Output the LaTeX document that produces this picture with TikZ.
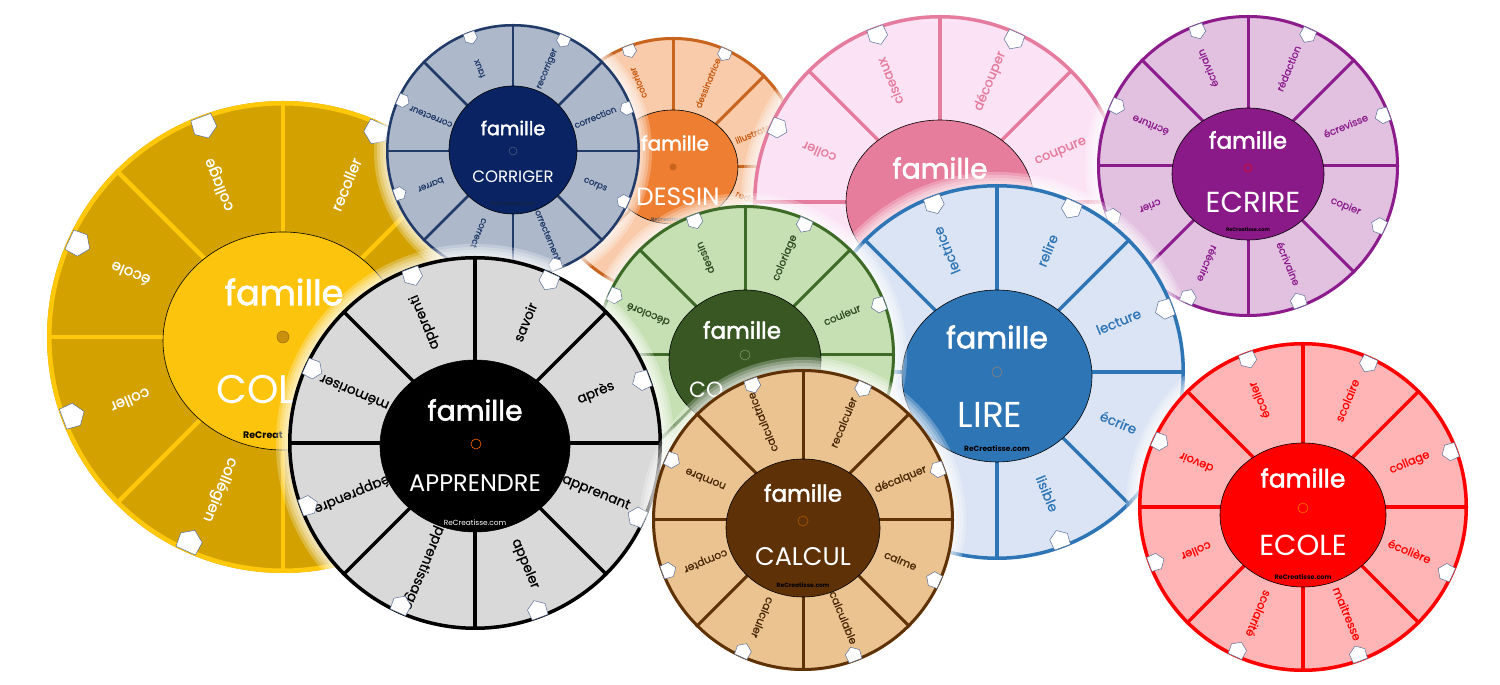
\documentclass[tikz,border=0pt]{standalone}
\usepackage{fontspec}
\setmainfont{Poppins}
\newfontfamily\hubfont{Poppins}[FakeBold=2]
\newfontfamily\wordfont{Poppins}[FakeBold=0.8]
\usetikzlibrary{shapes.geometric}
\definecolor{tabline}{HTML}{5A6E96}
\definecolor{colleR}{HTML}{D3A200}\definecolor{colleL}{HTML}{FFC80A}\definecolor{colleH}{HTML}{FCC40C}
\definecolor{colleD}{HTML}{C8900C}\definecolor{colleDL}{HTML}{9A6A06}
\definecolor{dessR}{HTML}{F9CBAB}\definecolor{dessL}{HTML}{C9641F}\definecolor{dessH}{HTML}{EE7E32}\definecolor{dessW}{HTML}{C55A11}
\definecolor{pinkR}{HTML}{FCE2F5}\definecolor{pinkL}{HTML}{E57C9D}\definecolor{pinkH}{HTML}{E77D9D}
\definecolor{ecrR}{HTML}{E1C0E0}\definecolor{ecrL}{HTML}{8C1C8C}\definecolor{ecrH}{HTML}{8A1A88}
\definecolor{lireR}{HTML}{DAE4F4}\definecolor{lireL}{HTML}{2E75B6}
\definecolor{corR}{HTML}{ADB9CB}\definecolor{corL}{HTML}{223A68}\definecolor{corH}{HTML}{0A2463}
\definecolor{vertR}{HTML}{C6E0B4}\definecolor{vertL}{HTML}{3D6B27}\definecolor{vertH}{HTML}{385723}\definecolor{vertW}{HTML}{2F4A1E}
\definecolor{appR}{HTML}{D9D9D9}
\definecolor{calR}{HTML}{EBC391}\definecolor{calL}{HTML}{5E3206}\definecolor{calW}{HTML}{4A2805}
\definecolor{ecoR}{HTML}{FFB5B5}\definecolor{ecoL}{HTML}{FF0000}
\colorlet{ringfill}{white}\colorlet{ringline}{black}\colorlet{hubfill}{black}\colorlet{wordcol}{black}
\def\lw{3}\def\wfs{10}
\newcommand\fsz[1]{\fontsize{#1}{#1}\selectfont}
\newcommand\setwheel[6]{\colorlet{ringfill}{#1}\colorlet{ringline}{#2}\colorlet{hubfill}{#3}\colorlet{wordcol}{#4}\def\lw{#5}\def\wfs{#6}}
\tikzset{
  wordtxt/.style={text=wordcol,inner sep=0pt,font=\wordfont\fsz{\wfs}},
  hubtxt/.style={text=white,inner sep=0pt},
  famtxt/.style={text=white,inner sep=0pt,font=\hubfont\fsz{#1}},
  rctxt/.style={inner sep=0pt},
  tabshape/.style={fill=white,draw=tabline,line width=0.5pt,line join=round},
  hubborder/.style={draw=black,line width=0.6pt}
}
\newcommand\ringwheel[5]{%
\begin{scope}[shift={(#2,#3)}]
\foreach \gk in {12,9,6,3}{\fill[white,opacity=0.25] (0,0) circle ({#4+\gk});}
\fill[ringfill] (0,0) circle (#4);
\foreach \dv in {0,45,...,315}{\draw[ringline,line width=\lw pt] (0,0) -- (\dv:#4);}
\draw[ringline,line width=\lw pt] (0,0) circle ({#4-\lw/2});
\pgfmathsetmacro\tsz{0.1*#4}
\pgfmathsetmacro\trad{0.95*#4}
\foreach \wrd [count=\wi] in {#5}{%
  \pgfmathsetmacro\ang{112.5-45*\wi}
  \node[wordtxt,rotate=\ang] (#1-w\wi) at (\ang:{0.7*#4}) {\wrd};
  \begin{scope}[rotate=\ang-2]
  \draw[tabshape] ({\trad+0.45*\tsz},{-0.45*\tsz}) -- ({\trad+0.45*\tsz},{0.45*\tsz}) -- ({\trad-0.15*\tsz},{0.5*\tsz}) -- ({\trad-0.5*\tsz},0) -- ({\trad-0.15*\tsz},{-0.5*\tsz}) -- cycle;
  \end{scope}
}
\end{scope}}
\newcommand\hubdisc[4]{\fill[hubfill] (#1,#2) ellipse [x radius=#3,y radius=#4];
\draw[hubborder] (#1,#2) ellipse [x radius=#3,y radius=#4];}
\begin{document}
\begin{tikzpicture}[x=1pt,y=1pt]
\useasboundingbox (0,0) rectangle (1500,685);
\fill[white] (0,0) rectangle (1500,685);

% ---------------- COLLE
\setwheel{colleR}{colleL}{colleH}{white}{4.5}{15}
\ringwheel{colle}{283}{348}{236}{recoller,,,,collégien,coller,école,collage}
\hubdisc{283}{344}{120}{109}
\node[famtxt=35] (colle-f) at (284,393) {famille};
\node[hubtxt,font=\fsz{40},anchor=west] (colle-m) at (216,295) {COL};
\node[rctxt,font=\fsz{9.5}\bfseries,anchor=west] (colle-r) at (243,250) {ReCreat};
\filldraw[fill=colleD,draw=colleDL,line width=0.5pt] (283,348) circle (6);

% ---------------- DESSIN
\setwheel{dessR}{dessL}{dessH}{dessW}{3}{8.7}
\ringwheel{dess}{673}{518}{130}{dessinatrice,illustrateur,redessiner,,,,,colorier}
\hubdisc{673}{518}{65}{57}
\node[famtxt=20] (dess-f) at (675,542) {famille};
\node[hubtxt,font=\fsz{25}] (dess-m) at (678,488) {DESSIN};
\node[rctxt,font=\fsz{5}\bfseries,text=black!70] (dess-r) at (673,465) {ReCreatisse.com};
\fill[dessL] (673,518) circle (3.5);

% ---------------- COUPER (pink)
\setwheel{pinkR}{pinkL}{pinkH}{pinkL}{3.5}{13}
\ringwheel{coup}{940}{483}{187}{découper,coupure,,,,,coller,ciseaux}
\hubdisc{940}{483}{94}{82}
\node[famtxt=28] (coup-f) at (940,517) {famille};

% ---------------- ECRIRE
\setwheel{ecrR}{ecrL}{ecrH}{ecrL}{3}{10}
\ringwheel{ecr}{1248}{519}{151}{rédaction,écrevisse,copier,écrivaine,réécrire,crier,écriture,écrivain}
\hubdisc{1248}{511}{76}{66}
\node[famtxt=23] (ecr-f) at (1248,545) {famille};
\node[hubtxt,font=\fsz{29}] (ecr-m) at (1253,483) {ECRIRE};
\node[rctxt,font=\fsz{5}\bfseries] (ecr-r) at (1248,455) {ReCreatisse.com};
\draw[red!60!purple,line width=0.6pt] (1248,517) circle (4);

% ---------------- LIRE
\setwheel{lireR}{lireL}{lireL}{lireL}{3.5}{13.5}
\ringwheel{lire}{997}{313}{188}{relire,lecture,écrire,lisible,,,,lectrice}
\hubdisc{997}{309}{95}{86}
\node[famtxt=30] (lire-f) at (997,348) {famille};
\node[hubtxt,font=\fsz{36}] (lire-m) at (990,270) {LIRE};
\node[rctxt,font=\fsz{7.5}\bfseries] (lire-r) at (997,236) {ReCreatisse.com};
\draw[gray,line width=0.7pt] (997,313) circle (5);

% ---------------- CORRIGER
\setwheel{corR}{corL}{corH}{corL}{2.5}{8.7}
\ringwheel{cor}{513}{534}{127}{recorriger,correction,corps,correctement,correct,barrer,correcteur,faux}
\hubdisc{513}{535}{64}{64}
\node[famtxt=19] (cor-f) at (513,557) {famille};
\node[hubtxt,font=\fsz{16.5}] (cor-m) at (513,508) {CORRIGER};
\node[rctxt,font=\fsz{5}\bfseries,text=corL!60!black] (cor-r) at (513,481) {ReCreatisse.com};
\draw[corL!80!white,line width=0.5pt] (513,534) circle (4);

% ---------------- COLORIER (green)
\setwheel{vertR}{vertL}{vertH}{vertW}{3}{10.3}
\ringwheel{vert}{745}{330}{150}{coloriage,couleur,,,,,décoloré,dessin}
\hubdisc{745}{325}{76}{70}
\node[famtxt=23] (vert-f) at (742,355) {famille};
\node[hubtxt,font=\fsz{22},anchor=west] (vert-m) at (689,295) {CO};
\draw[vertL!70!white,line width=0.6pt] (745,330) circle (5);

% ---------------- APPRENDRE
\setwheel{appR}{black}{black}{black}{3.5}{13.5}
\ringwheel{app}{475}{242}{187}{savoir,après,apprenant,appeler,apprentissage,réapprendre,mémoriser,apprenti}
\hubdisc{475}{239}{95}{86}
\node[famtxt=28] (app-f) at (475,275) {famille};
\node[hubtxt,font=\fsz{24}] (app-m) at (475,202) {APPRENDRE};
\node[rctxt,font=\fsz{7.4},text=white] (app-r) at (475,162) {ReCreatisse.com};
\draw[orange!80!red,line width=0.6pt] (476,241) circle (5);

% ---------------- CALCUL
\setwheel{calR}{calL}{calL}{calW}{3}{10.7}
\ringwheel{cal}{803}{165}{151}{recalculer,décalquer,calme,calculable,calculer,compter,nombre,calculatrice}
\hubdisc{803}{157}{77}{69}
\node[famtxt=23] (cal-f) at (803,192) {famille};
\node[hubtxt,font=\fsz{25.5}] (cal-m) at (803,128) {CALCUL};
\node[rctxt,font=\fsz{6}\bfseries] (cal-r) at (803,100) {ReCreatisse.com};
\draw[calL!50!orange,line width=0.6pt] (803,164) circle (5);

% ---------------- ECOLE
\setwheel{ecoR}{ecoL}{ecoL}{ecoL}{3.5}{11.4}
\ringwheel{eco}{1303}{178}{165}{scolaire,collage,écolière,maitresse,scolarité,coller,devoir,écolier}
\hubdisc{1303}{170}{83}{72}
\node[famtxt=25] (eco-f) at (1303,207) {famille};
\node[hubtxt,font=\fsz{29}] (eco-m) at (1303,140) {ECOLE};
\node[rctxt,font=\fsz{6.5}\bfseries] (eco-r) at (1303,108) {ReCreatisse.com};
\draw[orange!90!red,line width=0.6pt] (1303,177) circle (5);
\end{tikzpicture}
\end{document}
